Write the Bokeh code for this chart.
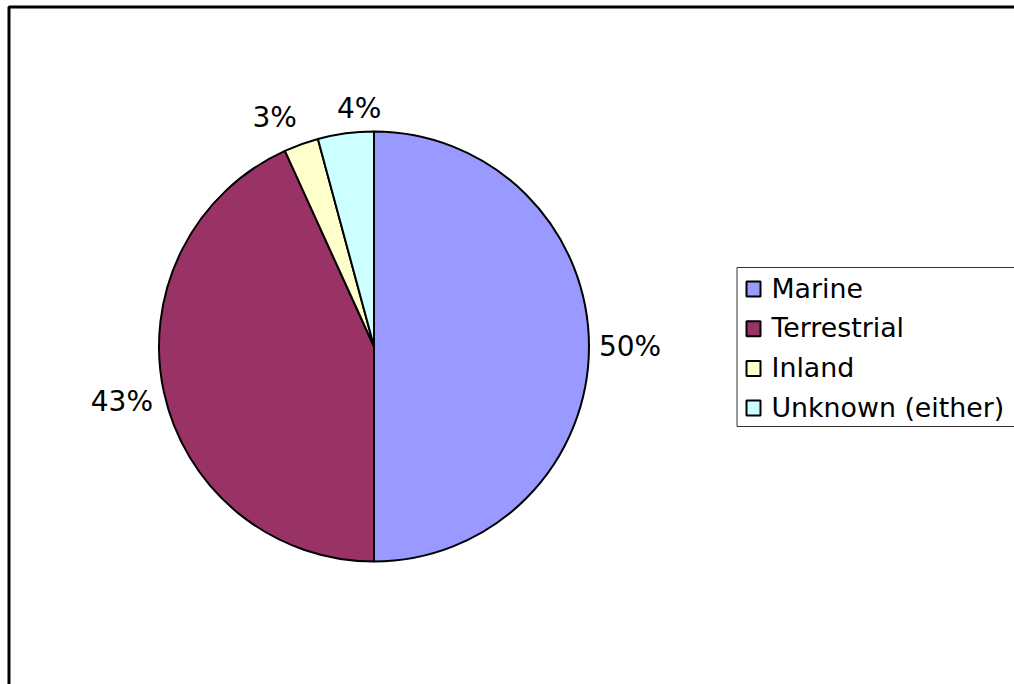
import math
from bokeh.plotting import figure
from bokeh.models import Range1d, ColumnDataSource
from bokeh.core.properties import value
from bokeh.embed import file_html
from bokeh.resources import INLINE

# ---- data ----
categories = ["Marine", "Terrestrial", "Inland", "Unknown (either)"]
shares = [50.0, 43.2, 2.6, 4.2]
colors = ["#9999FF", "#993366", "#FFFFCC", "#CCFFFF"]

# ---- layout (screen-pixel coordinate system) ----
W, H = 1014, 684

def sy(y):  # screen y -> data y
    return H - y

p = figure(width=W, height=H, output_backend="svg", toolbar_location=None,
           x_range=Range1d(0, W), y_range=Range1d(0, H),
           x_axis_type=None, y_axis_type=None, min_border=0)
p.outline_line_color = None
p.grid.visible = False
p.background_fill_color = "white"
p.border_fill_color = "white"

FONT = "DejaVu Sans"

# outer frame (top & left visible)
p.line(x=[8.5, 8.5, W + 10], y=[-10, sy(6.5), sy(6.5)],
       line_color="black", line_width=3)

# pie
cx, cy, r = 373.5, sy(346), 215
total = sum(shares)
starts, ends, mids = [], [], []
cum = 0.0
for s in shares:
    a0 = 90 - cum / total * 360
    cum += s
    a1 = 90 - cum / total * 360
    starts.append(math.radians(a1))
    ends.append(math.radians(a0))
    mids.append(math.radians((a0 + a1) / 2))

src = ColumnDataSource(dict(start=starts, end=ends, color=colors, cat=categories))
p.wedge(x=cx, y=cy, radius=r, start_angle="start", end_angle="end",
        fill_color="color", line_color="black", line_width=2, source=src)

# percentage labels
LFS = 28
labels = [f"{round(s / total * 100):.0f}%" for s in shares]
lx, ly, hw = [], [], []
for lab, m in zip(labels, mids):
    w = LFS * (0.636 * (len(lab) - 1) + 0.95)
    c, s_ = math.cos(m), math.sin(m)
    d = r + 10 + (w / 2) * abs(c) + 12 * abs(s_)
    lx.append(cx + d * c)
    ly.append(cy + d * s_)
    hw.append(w / 2)
# push apart labels that crowd each other
MIN_GAP = 40
for i in range(len(lx)):
    for j in range(i + 1, len(lx)):
        if abs(ly[i] - ly[j]) < 30:
            a, b = (i, j) if lx[i] < lx[j] else (j, i)
            gap = (lx[b] - hw[b]) - (lx[a] + hw[a])
            if gap < MIN_GAP:
                sh = (MIN_GAP - gap) / 2
                lx[a] -= sh
                lx[b] += sh
p.text(x=lx, y=ly, text=labels, text_font=value(FONT), text_font_size=f"{LFS}px",
       text_align="center", text_baseline="middle", text_color="black")

# legend
LEG_L, LEG_T, LEG_B = 736.5, 267, 426
p.quad(left=LEG_L, right=W + 10, top=sy(LEG_T), bottom=sy(LEG_B),
       fill_color="white", line_color="#333333", line_width=1)
row0, row_h = 288.5, 39.7
rows_y = [sy(row0 + i * row_h) for i in range(len(categories))]
p.rect(x=[753] * len(categories), y=rows_y, width=14, height=15,
       fill_color=colors, line_color="black", line_width=2)
p.text(x=[771] * len(categories), y=[v + 1 for v in rows_y], text=categories,
       text_font=value(FONT), text_font_size="26.8px",
       text_align="left", text_baseline="middle", text_color="black")

open("out.html", "w").write(file_html(p, INLINE))
